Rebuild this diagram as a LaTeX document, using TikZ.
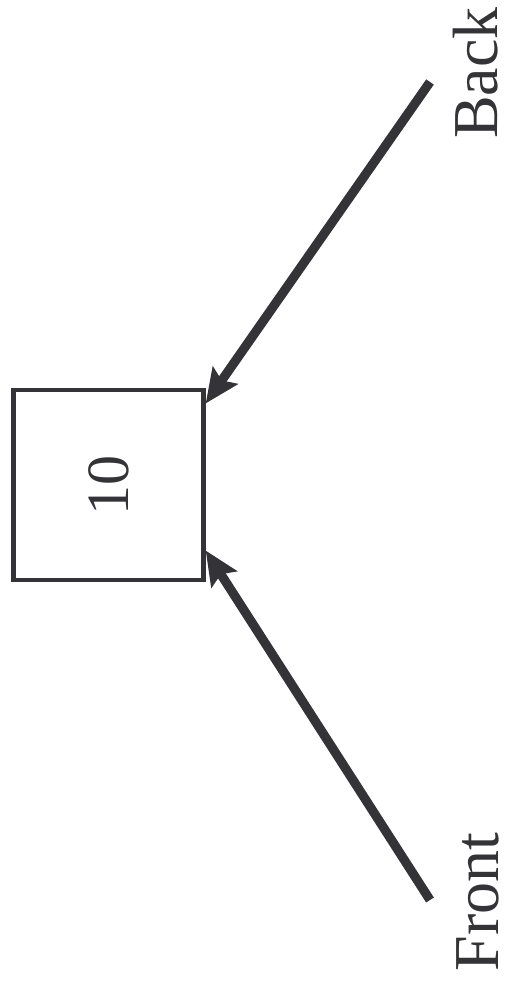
\documentclass[tikz,border=0pt]{standalone}
\usepackage{fontspec}
\setmainfont{Liberation Serif}
\usetikzlibrary{arrows.meta}
\newcommand{\Unit}{0.5pt}
\newcommand{\Shaft}{4.6pt}
\newcommand{\Frame}{2.2pt}
\definecolor{ink}{HTML}{333338}

\begin{document}
\begin{tikzpicture}[x=\Unit,y=-\Unit, line join=miter,
    valuebox/.style={draw=ink,line width=\Frame,minimum size=95pt,inner sep=0pt,
      font=\fontsize{30pt}{30pt}\selectfont,text=ink},
    endlabel/.style={inner sep=0pt,font=\fontsize{32pt}{32pt}\selectfont,text=ink,rotate=90},
    pointer/.style={draw=ink,line width=\Shaft,-{Stealth[length=17pt,width=15pt,inset=3pt]}}]

  \useasboundingbox (0,0) rectangle (506,986);

  % ---- the box in the middle, holding the value --------------------------
  \node[valuebox] (box) at (108.5,485) {\rotatebox{90}{10}};

  % ---- the two ends, written along the right side ------------------------
  \node[endlabel] (back) at (476,73) {Back};
  \node[endlabel] (front) at (478,902) {Front};

  % Where the shafts start, just short of the words.
  \coordinate (backfoot) at (430,82);
  \coordinate (frontfoot) at (430,900);

  % ---- both point at the box ---------------------------------------------
  \draw[pointer] (backfoot) -- (box.40);
  \draw[pointer] (frontfoot) -- (box.-34);

\end{tikzpicture}
\end{document}
